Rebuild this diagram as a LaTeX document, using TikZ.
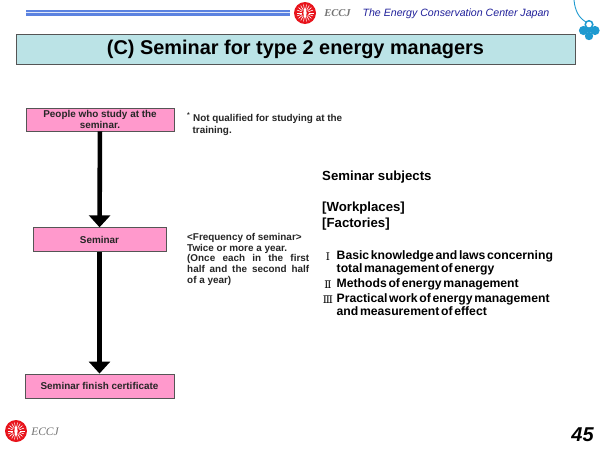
\documentclass[tikz,border=0pt]{standalone}
\usepackage{fontspec}
\setmainfont{Liberation Sans}
\newfontfamily\numfont{DejaVu Serif}
\newfontfamily\serifit{Liberation Serif}
\newfontfamily\tightbold[WordSpace=0.5,BoldFont={Liberation Sans Bold}]{Liberation Sans}
\usetikzlibrary{arrows.meta,calc}
\definecolor{titlefill}{HTML}{BBE3E6}
\definecolor{pinkfill}{HTML}{FF99CC}
\definecolor{edgegray}{HTML}{555555}
\definecolor{headblue}{HTML}{1F1F9A}
\definecolor{lineblue}{HTML}{5B82E0}
\definecolor{logored}{HTML}{E8141C}
\definecolor{cloverblue}{HTML}{1E9AD0}
\newcommand{\fs}[2]{\fontsize{#1pt}{#2pt}\selectfont}
\newcommand{\just}[1]{\makebox[122pt][s]{#1}}
\tikzset{
  x=1pt,y=-1pt,
  pinkbox/.style={draw=edgegray,line width=0.9pt,fill=pinkfill,inner sep=0pt,align=center,font=\fs{9.9}{11.5}\bfseries,text=black!85},
  bigarrow/.style={line width=4.6pt,black,-{Triangle[length=12pt,width=21pt]},shorten >=0pt},
  note/.style={inner sep=0pt,anchor=north west,align=left,font=\fs{9.9}{10.7}\bfseries,text=black!85},
  subj/.style={inner sep=0pt,anchor=north west,align=left,font=\fs{13.2}{15.2}\bfseries,text=black},
  item/.style={inner sep=0pt,anchor=north west,align=left,font=\tightbold\fs{12.2}{13.8}\bfseries,text=black},
  numeral/.style={inner sep=0pt,font=\numfont\fs{10.5}{12}},
}
\newcommand{\logomark}[2]{%
  \fill[logored] (#1,#2) circle (11);
  \foreach \a in {0,20,...,340}{\draw[white,line width=0.6pt] ($(#1,#2)+(\a:3.5)$) -- ($(#1,#2)+(\a:8.5)$);}
  \fill[white] (#1,#2) ellipse (1.6 and 5);
}
\begin{document}
\begin{tikzpicture}
\useasboundingbox (0,0) rectangle (600,450);
\fill[white] (0,0) rectangle (600,450);
% header rule
\fill[lineblue] (26,10) rectangle (290,15.5);
\draw[white!80!lineblue,line width=0.7pt] (26,12.7) -- (290,12.7);
\logomark{305}{13}
\node[inner sep=0pt,font=\serifit\fs{10.5}{12}\bfseries\itshape,text=black!55] (eccjtop) at (337.5,13.5) {ECCJ};
\node[inner sep=0pt,font=\fs{10.6}{12}\itshape,text=headblue] (org) at (456,13.5) {The Energy Conservation Center Japan};
% clover
\draw[cloverblue,line width=0.9pt] (574,0) .. controls (575,11) and (579,18) .. (586,22);
\fill[cloverblue] (589,24.5) circle (4.6);
\fill[cloverblue] (583.5,30.5) circle (4.6);
\fill[cloverblue] (595,30.5) circle (4.6);
\fill[cloverblue] (589,36) circle (4.2);
\fill[cloverblue] (589,30) circle (3);
\fill[white] (589,24.5) circle (2.8);
% title
\node[draw=edgegray,line width=0.9pt,fill=titlefill,minimum width=559pt,minimum height=30pt,inner sep=0pt,font=\fs{19.9}{24}\bfseries,text=black] (title) at (295.5,49.5) {\raisebox{-2.5pt}{(C) Seminar for type 2 energy managers}};
% flow
\node[pinkbox,minimum width=148pt,minimum height=23pt] (people) at (100,119.5) {People who study at the\\seminar.};
\node[pinkbox,minimum width=133pt,minimum height=23.5pt] (seminar) at (99.5,239.5) {Seminar};
\node[pinkbox,minimum width=149pt,minimum height=24pt] (cert) at (99.5,386) {Seminar finish certificate};
\draw[bigarrow] (people) -- (seminar);
\draw[bigarrow] (seminar) -- (cert);
% notes
\node[note] (n1) at (187,113) {\textsuperscript{*} Not qualified for studying at the\\[1.2pt]\hspace*{5.5pt}training.};
\node[note] (n2) at (187,233) {<Frequency of seminar>\\ Twice or more a year.\\ \just{(Once each in the first}\\ \just{half and the second half}\\ of a year)};
% subjects
\node[subj] (s1) at (322,170.5) {Seminar subjects};
\node[subj,font=\fs{13.2}{15.5}\bfseries] (s2) at (322,202) {[Workplaces]\\{[Factories]}};
\node[item] (l1) at (336.5,250) {Basic knowledge and laws concerning\\total management of energy};
\node[item] (l2) at (336.5,278) {Methods of energy management};
\node[item] (l3) at (336.5,293) {Practical work of energy management\\and measurement of effect};
\node[numeral] (r1) at (328,256.5) {Ⅰ};
\node[numeral] (r2) at (328,284.5) {Ⅱ};
\node[numeral] (r3) at (328,300) {Ⅲ};
% footer
\logomark{16}{431}
\node[inner sep=0pt,font=\serifit\fs{11.5}{13}\itshape,text=black!55] (eccjbot) at (45,431.5) {ECCJ};
\node[inner sep=0pt,font=\fs{20}{24}\bfseries\itshape,text=black] (page) at (582.5,435) {45};
\end{tikzpicture}
\end{document}
